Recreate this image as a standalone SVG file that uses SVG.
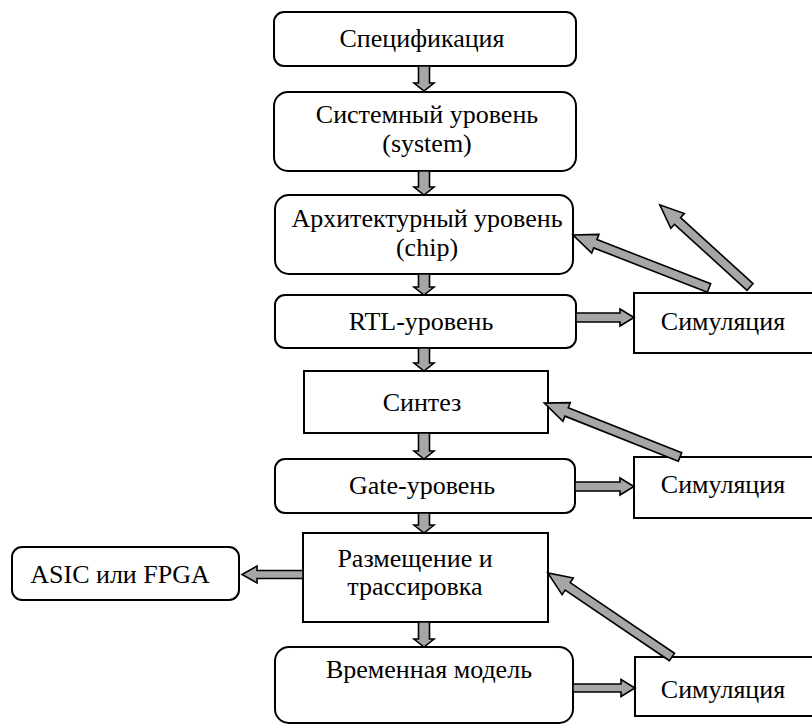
<svg xmlns="http://www.w3.org/2000/svg" width="812" height="724" viewBox="0 0 812 724">
  <style>
    .box { fill: #ffffff; stroke: #000000; stroke-width: 2; }
    .lbl { font-family: "Liberation Serif", "Times New Roman", serif; font-size: 26px; fill: #000000; text-anchor: middle; }
    .arr { fill: #a6a6a6; stroke: #000000; stroke-width: 1.6; stroke-linejoin: miter; }
  </style>
  <rect width="812" height="724" fill="#ffffff"/>

  <g id="spec">
    <rect class="box" x="274" y="12" width="302" height="54" rx="10"/>
    <text class="lbl" x="422" y="47">Спецификация</text>
  </g>
  <g id="system">
    <rect class="box" x="274" y="92" width="302" height="79" rx="14"/>
    <text class="lbl" x="427" y="123">Системный уровень</text>
    <text class="lbl" x="427" y="152">(system)</text>
  </g>
  <g id="chip">
    <rect class="box" x="275" y="195" width="298" height="79" rx="14"/>
    <text class="lbl" x="427" y="227">Архитектурный уровень</text>
    <text class="lbl" x="427" y="256">(chip)</text>
  </g>
  <g id="rtl">
    <rect class="box" x="275" y="295" width="301" height="53" rx="10"/>
    <text class="lbl" x="421" y="330">RTL-уровень</text>
  </g>
  <g id="sim-rtl">
    <rect class="box" x="634" y="293" width="200" height="60"/>
    <text class="lbl" x="723" y="330">Симуляция</text>
  </g>
  <g id="synth">
    <rect class="box" x="304" y="371" width="244" height="62"/>
    <text class="lbl" x="422" y="411">Синтез</text>
  </g>
  <g id="gate">
    <rect class="box" x="275" y="459" width="300" height="54" rx="10"/>
    <text class="lbl" x="422" y="494">Gate-уровень</text>
  </g>
  <g id="sim-gate">
    <rect class="box" x="634" y="457" width="200" height="61"/>
    <text class="lbl" x="723" y="493">Симуляция</text>
  </g>
  <g id="place-route">
    <rect class="box" x="303" y="533" width="245" height="89"/>
    <text class="lbl" x="415" y="567">Размещение и</text>
    <text class="lbl" x="415" y="595">трассировка</text>
  </g>
  <g id="asic-fpga">
    <rect class="box" x="12" y="547" width="227" height="53" rx="10"/>
    <text class="lbl" x="120" y="583">ASIC или FPGA</text>
  </g>
  <g id="timing">
    <rect class="box" x="275" y="647" width="298" height="76" rx="14"/>
    <text class="lbl" x="429" y="678">Временная модель</text>
  </g>
  <g id="sim-timing">
    <rect class="box" x="635" y="657" width="200" height="59"/>
    <text class="lbl" x="723" y="698">Симуляция</text>
  </g>

  <g id="connectors">
    <!-- downward flow arrows -->
    <polygon class="arr" points="418.5,66 429.5,66 429.5,83 434,83 424,91 414,83 418.5,83"/>
    <polygon class="arr" points="418.5,171 429.5,171 429.5,187 434,187 424,195 414,187 418.5,187"/>
    <polygon class="arr" points="418.5,274 429.5,274 429.5,287 434,287 424,295 414,287 418.5,287"/>
    <polygon class="arr" points="418.5,348 429.5,348 429.5,363 434,363 424,371 414,363 418.5,363"/>
    <polygon class="arr" points="418.5,433 429.5,433 429.5,451 434,451 424,459 414,451 418.5,451"/>
    <polygon class="arr" points="418.5,513 429.5,513 429.5,525 434,525 424,533 414,525 418.5,525"/>
    <polygon class="arr" points="418.5,622 429.5,622 429.5,639 434,639 424,647 414,639 418.5,639"/>

    <!-- sideways arrows to the simulation boxes and the target -->
    <polygon class="arr" points="576,313 620,313 620,309 634,317.5 620,326 620,322 576,322"/>
    <polygon class="arr" points="575,482 620,482 620,478 634,486.5 620,495 620,491 575,491"/>
    <polygon class="arr" points="573,684 621,684 621,679.5 635,688 621,696.5 621,692 573,692"/>
    <polygon class="arr" points="303,570.5 257,570.5 257,566 242,574.5 257,583 257,578.5 303,578.5"/>

    <!-- feedback arrows from simulation -->
    <polygon class="arr" transform="translate(709,288) rotate(-158.71)" points="0,-4.5 122,-4.5 122,-10 146,0 122,10 122,4.5 0,4.5"/>
    <polygon class="arr" transform="translate(750,287) rotate(-137.66)" points="0,-4.5 98,-4.5 98,-10 122,0 98,10 98,4.5 0,4.5"/>
    <polygon class="arr" transform="translate(680,457) rotate(-158.34)" points="0,-4.5 122,-4.5 122,-10 146,0 122,10 122,4.5 0,4.5"/>
    <polygon class="arr" transform="translate(672,657) rotate(-145.89)" points="0,-4.5 126,-4.5 126,-10 150,0 126,10 126,4.5 0,4.5"/>
  </g>
</svg>
